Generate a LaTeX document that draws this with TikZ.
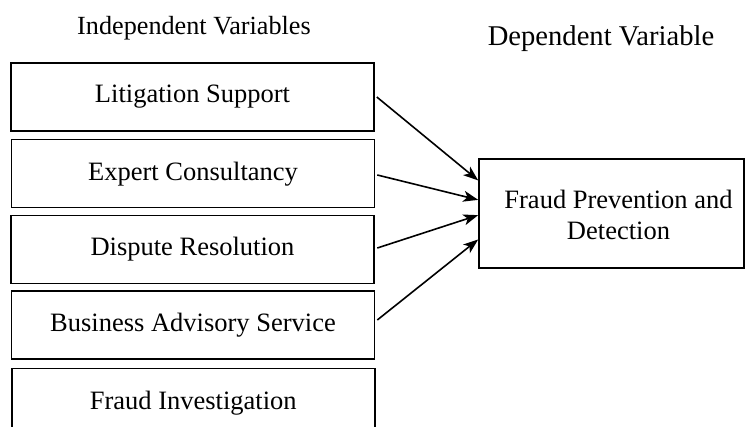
\documentclass[tikz,border=0pt]{standalone}
\usepackage{fontspec}
\setmainfont{Liberation Serif}
\usetikzlibrary{arrows.meta,calc}
\begin{document}
\begin{tikzpicture}[x=1pt,y=-1pt,
  varbox/.style={draw=black, line width=1.6pt, minimum width=363pt, minimum height=68pt,
    inner sep=0pt, font=\fontsize{26.5}{31}\selectfont},
  heading/.style={anchor=base, inner sep=0pt},
  link/.style={line width=1.6pt, -{Stealth[length=15pt,width=11pt,inset=4pt]}}]
\useasboundingbox (0,0) rectangle (745,427);
% column headings
\node[heading, font=\fontsize{26.2}{31}\selectfont] (indep) at (194,35) {Independent Variables};
\node[heading, font=\fontsize{28.6}{33}\selectfont] (dep) at (601,45.7) {Dependent Variable};
% independent variables
\node[varbox] (b1) at (192.5,97) {Litigation Support};
\node[varbox] (b2) at (193,173.7) {Expert Consultancy};
\node[varbox] (b3) at (192.5,249.5) {Dispute Resolution};
\node[varbox] (b4) at (193,325) {Business Advisory Service};
\node[varbox] (b5) at (193.3,402.7) {Fraud Investigation};
% dependent variable
\node[draw=black, line width=1.6pt, minimum width=265pt, minimum height=109pt, inner sep=0pt,
  label={[font=\fontsize{26.5}{30.7}\selectfont, align=center, xshift=7pt, yshift=-1pt]center:Fraud Prevention and\\Detection}]
  (fpd) at (611.5,213.6) {};
% arrows into the dependent variable
\draw[link] ([xshift=2pt,yshift=0pt]b1.east) -- ($(fpd.north west)!0.20!(fpd.south west)$);
\draw[link] ([xshift=2pt,yshift=-1.3pt]b2.east) -- ($(fpd.north west)!0.376!(fpd.south west)$);
\draw[link] ([xshift=2.5pt,yshift=1.5pt]b3.east) -- ($(fpd.north west)!0.514!(fpd.south west)$);
\draw[link] ([xshift=2pt,yshift=5pt]b4.east) -- ($(fpd.north west)!0.734!(fpd.south west)$);
\end{tikzpicture}
\end{document}
